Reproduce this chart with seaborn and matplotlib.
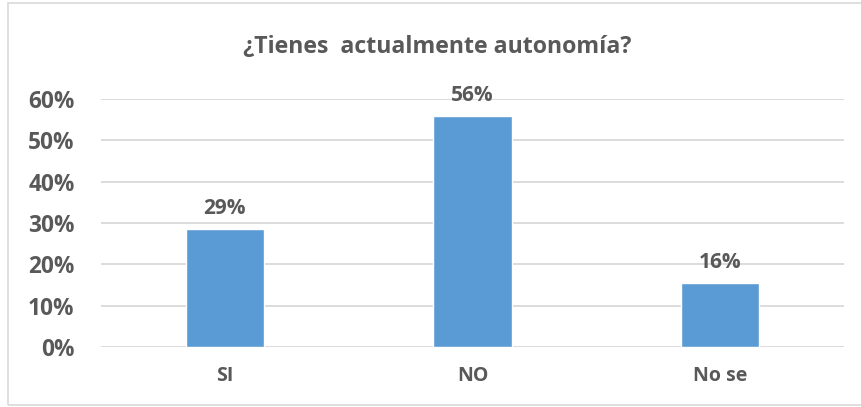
import matplotlib
matplotlib.use('Agg')
import matplotlib.pyplot as plt
from matplotlib.patches import Rectangle
from matplotlib.ticker import PercentFormatter
import pandas as pd
import seaborn as sns

# data
categories = ['SI', 'NO', 'No se']
shares = [0.286, 0.559, 0.155]
labels = ['29%', '56%', '16%']
title = '¿Tienes  actualmente autonomía?'

GREY = '#595959'
BLUE = '#5B9BD5'

sns.set_theme(style='white')
plt.rcParams['font.family'] = ['Open Sans', 'DejaVu Sans']

fig = plt.figure(figsize=(8.62, 4.07), dpi=100)
ax = fig.add_axes([101 / 862, 1 - 347 / 407, 743 / 862, 248 / 407])

df = pd.DataFrame({'cat': categories, 'share': shares})
sns.barplot(data=df, x='cat', y='share', color=BLUE, saturation=1,
            width=0.315, ax=ax, zorder=3)

ax.set_ylim(0, 0.6)
ax.set_xlim(-0.5, 2.5)
ax.set_yticks([0, 0.1, 0.2, 0.3, 0.4, 0.5, 0.6])
ax.yaxis.set_major_formatter(PercentFormatter(1.0, decimals=0))
ax.grid(axis='y', color='#D9D9D9', linewidth=1.3, zorder=0)
for s in ax.spines.values():
    s.set_visible(False)
ax.set_xlabel('')
ax.set_ylabel('')
ax.tick_params(axis='y', length=0, pad=19, labelsize=16.3, labelcolor=GREY)
ax.tick_params(axis='x', length=0, pad=14, labelsize=14, labelcolor=GREY)
for t in ax.get_yticklabels() + ax.get_xticklabels():
    t.set_fontweight('bold')

for i, (v, lab) in enumerate(zip(shares, labels)):
    ax.annotate(lab, (i, v), xytext=(0, 7), textcoords='offset points',
                ha='center', va='bottom', fontsize=15, fontweight='bold',
                color=GREY)

fig.text(437 / 862, 1 - 47 / 407, title, ha='center', va='center',
         fontsize=16.7, fontweight='bold', color=GREY)

# chart frame
fig.patches.append(Rectangle((8 / 862, 2 / 407), 1.0, 402 / 407,
                             transform=fig.transFigure, fill=False,
                             edgecolor='#D9D9D9', linewidth=1.2))

fig.savefig('out.png', dpi=100)
